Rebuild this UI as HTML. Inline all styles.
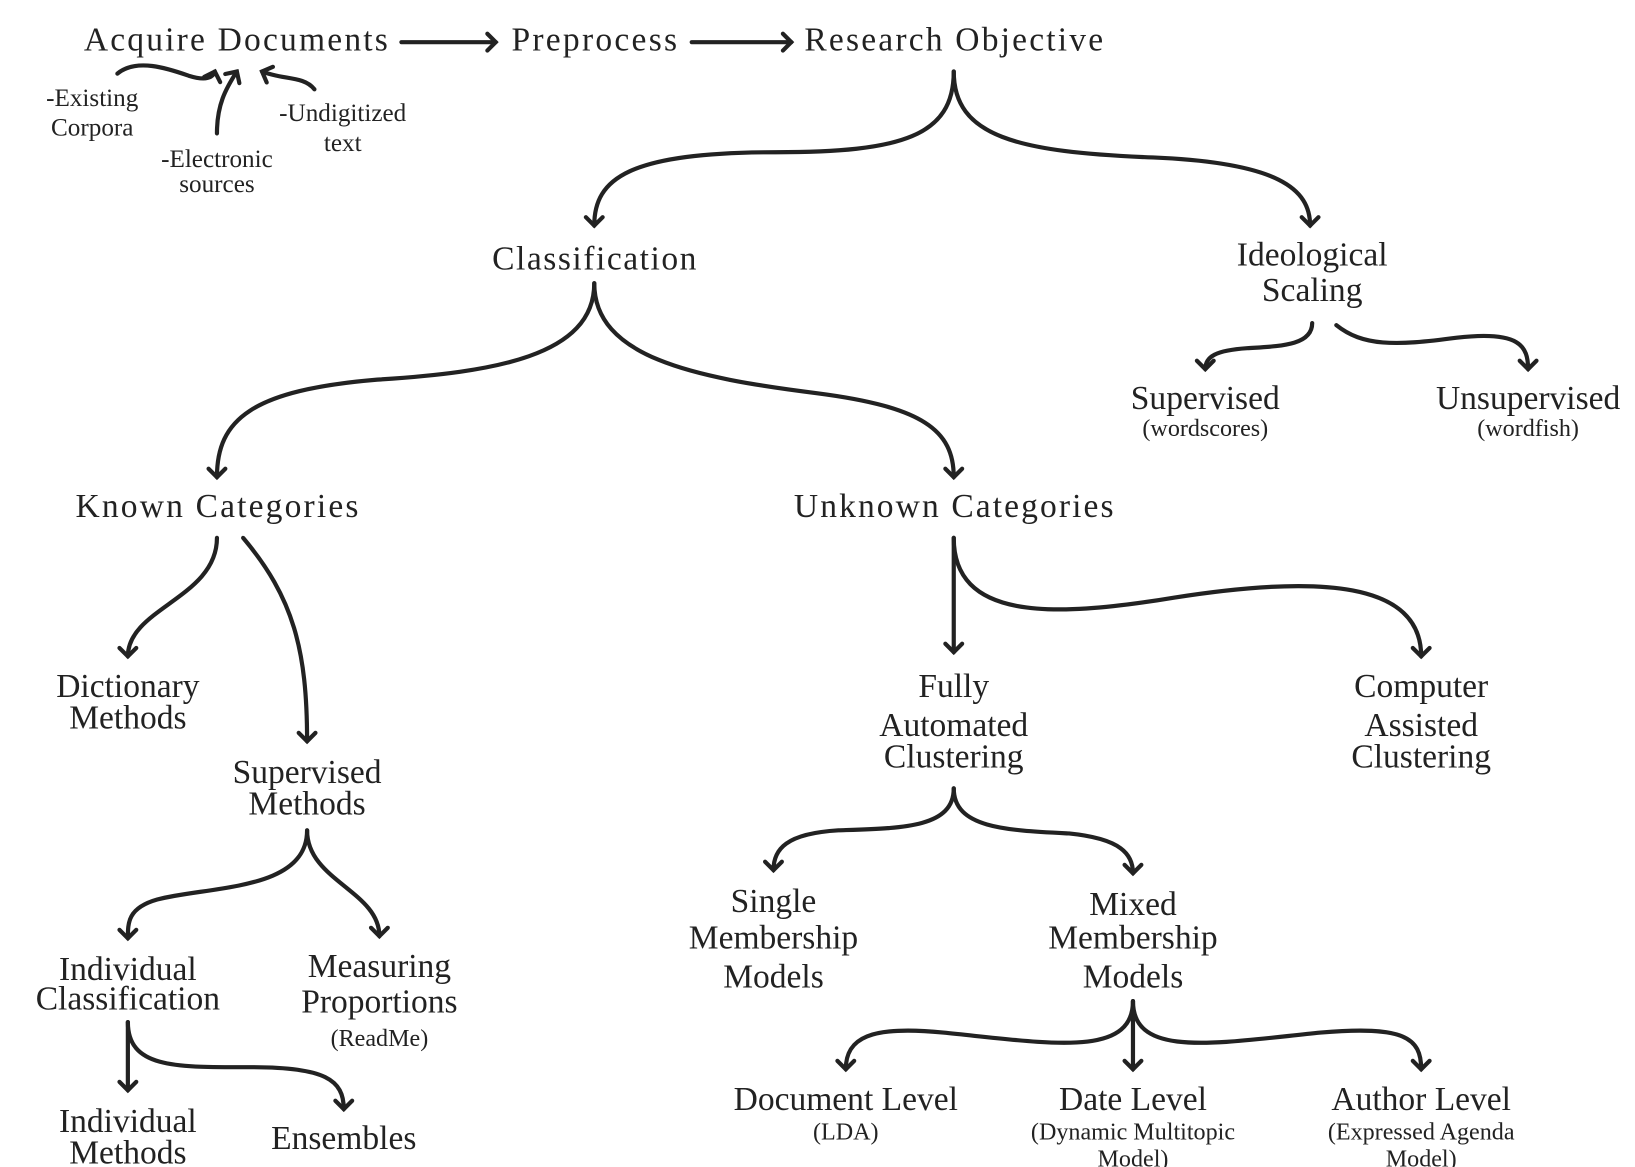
<!DOCTYPE html>
<html><head><meta charset="utf-8"><style>
html,body{margin:0;padding:0;background:#fff}
svg{display:block}
text{font-family:"Liberation Serif",serif;fill:#222;text-anchor:middle}
.m{font-size:32px}.s{font-size:24px}.p{font-size:23px}
path{fill:none;stroke:#222;stroke-width:4;stroke-linecap:round}
</style></head><body>
<svg width="1635" height="1167" viewBox="0 0 1560 1113" xmlns="http://www.w3.org/2000/svg">
<defs><marker id="a" markerUnits="userSpaceOnUse" markerWidth="30" markerHeight="30" refX="0" refY="0" viewBox="-15 -15 30 30" orient="auto"><path d="M-8,-8 L0,0 L-8,8" style="stroke-width:4;stroke-linejoin:miter"/></marker></defs>
<g>
<text class="m" x="225" y="48" textLength="290">Acquire Documents</text>
<text class="m" x="567" y="48" textLength="158">Preprocess</text>
<text class="m" x="910" y="48" textLength="285">Research Objective</text>
<text class="s" x="88" y="101">-Existing</text><text class="s" x="88" y="129">Corpora</text>
<text class="s" x="327" y="115">-Undigitized</text><text class="s" x="327" y="144">text</text>
<text class="s" x="207" y="159">-Electronic</text><text class="s" x="207" y="183">sources</text>
<text class="m" x="567" y="257" textLength="195">Classification</text>
<text class="m" x="1252" y="253">Ideological</text><text class="m" x="1252" y="287">Scaling</text>
<text class="m" x="1150" y="390">Supervised</text><text class="p" x="1150" y="416">(wordscores)</text>
<text class="m" x="1458" y="390">Unsupervised</text><text class="p" x="1458" y="416">(wordfish)</text>
<text class="m" x="207" y="493" textLength="270">Known Categories</text>
<text class="m" x="910" y="493" textLength="305">Unknown Categories</text>
<text class="m" x="122" y="665">Dictionary</text><text class="m" x="122" y="695">Methods</text>
<text class="m" x="293" y="747">Supervised</text><text class="m" x="293" y="777">Methods</text>
<text class="m" x="910" y="665">Fully</text><text class="m" x="910" y="702">Automated</text><text class="m" x="910" y="732">Clustering</text>
<text class="m" x="1356" y="665">Computer</text><text class="m" x="1356" y="702">Assisted</text><text class="m" x="1356" y="732">Clustering</text>
<text class="m" x="738" y="870">Single</text><text class="m" x="738" y="905">Membership</text><text class="m" x="738" y="942">Models</text>
<text class="m" x="1081" y="873">Mixed</text><text class="m" x="1081" y="905">Membership</text><text class="m" x="1081" y="942">Models</text>
<text class="m" x="122" y="935">Individual</text><text class="m" x="122" y="963">Classification</text>
<text class="m" x="362" y="932">Measuring</text><text class="m" x="362" y="966">Proportions</text><text class="p" x="362" y="998">(ReadMe)</text>
<text class="m" x="122" y="1080">Individual</text><text class="m" x="122" y="1110">Methods</text>
<text class="m" x="328" y="1096">Ensembles</text>
<text class="m" x="807" y="1059">Document Level</text><text class="p" x="807" y="1087">(LDA)</text>
<text class="m" x="1081" y="1059">Date Level</text><text class="p" x="1081" y="1087">(Dynamic Multitopic</text><text class="p" x="1081" y="1113">Model)</text>
<text class="m" x="1356" y="1059">Author Level</text><text class="p" x="1356" y="1087">(Expressed Agenda</text><text class="p" x="1356" y="1113">Model)</text>
</g>
<g marker-end="url(#a)">
<path d="M383 40 L473 40"/>
<path d="M660 40 L755 40"/>
<path d="M112 70 C130 55 160 65 180 72 C196 77 203 74 205 68"/>
<path d="M207 127 C207 100 215 85 226 68"/>
<path d="M300 85 C290 72 270 76 250 68"/>
<path d="M910 68 C910 130 860 145 740 145 C600 145 567 170 567 215"/>
<path d="M910 68 C910 130 970 145 1100 150 C1220 155 1250 180 1250 215"/>
<path d="M567 270 C567 340 470 355 360 362 C240 372 207 400 207 455"/>
<path d="M567 270 C567 340 660 360 780 375 C880 388 910 410 910 455"/>
<path d="M1252 308 C1252 330 1220 330 1190 332 C1160 334 1150 340 1150 352"/>
<path d="M1275 310 C1300 330 1330 330 1390 322 C1450 315 1458 330 1458 352"/>
<path d="M207 513 C207 570 122 580 122 626"/>
<path d="M232 513 C280 570 293 620 293 707"/>
<path d="M910 513 L910 622"/>
<path d="M910 513 C910 590 1000 590 1120 570 C1260 548 1356 555 1356 626"/>
<path d="M910 752 C910 790 860 790 800 792 C750 795 738 810 738 830"/>
<path d="M910 752 C910 790 960 792 1020 795 C1070 800 1081 815 1081 833"/>
<path d="M293 792 C293 850 200 845 150 858 C122 866 122 880 122 895"/>
<path d="M293 792 C293 840 362 850 362 893"/>
<path d="M122 975 L122 1040"/>
<path d="M122 975 C122 1020 170 1018 240 1018 C310 1018 328 1030 328 1058"/>
<path d="M1081 955 L1081 1020"/>
<path d="M1081 955 C1081 1010 1000 995 900 985 C830 978 807 990 807 1020"/>
<path d="M1081 955 C1081 1010 1160 995 1260 985 C1340 978 1356 990 1356 1020"/>
</g>
</svg>
</body></html>
